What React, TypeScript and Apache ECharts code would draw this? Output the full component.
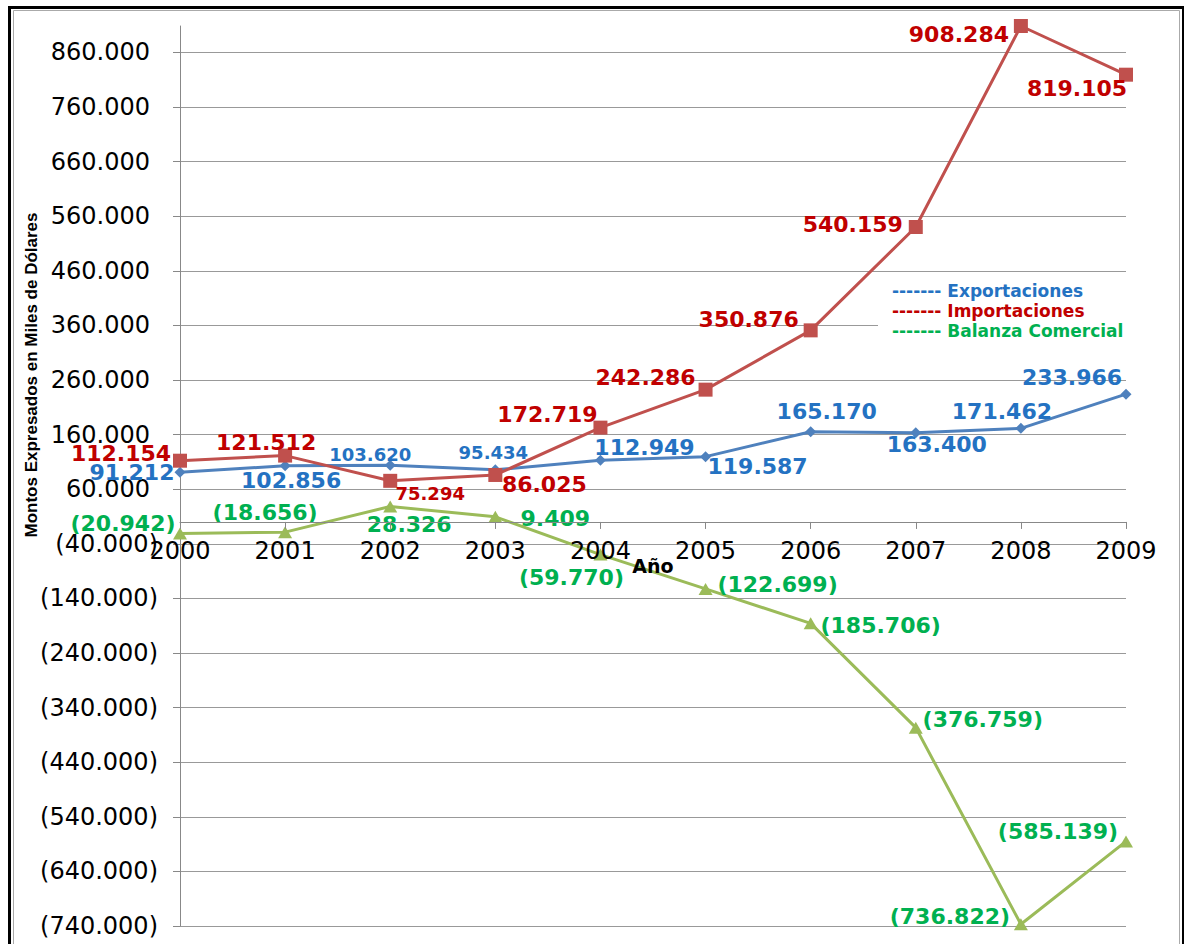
import React, { useEffect, useRef } from "react";
import * as echarts from "echarts";

const years = ["2000", "2001", "2002", "2003", "2004", "2005", "2006", "2007", "2008", "2009"];
const exportaciones = [91.212, 102.856, 103.62, 95.434, 112.949, 119.587, 165.17, 163.4, 171.462, 233.966];
const importaciones = [112.154, 121.512, 75.294, 86.025, 172.719, 242.286, 350.876, 540.159, 908.284, 819.105];
const balanza = [-20.942, -18.656, 28.326, 9.409, -59.77, -122.699, -185.706, -376.759, -736.822, -585.139];
const yMin = -740;
const yInterval = 100;

// label placement (pixel offsets from each point), kept apart from the data
const expOffsets = [[-48, 0], [6, 15], [-20, -11], [-2, -17], [44, -13], [52, 10], [16, -20], [21, 12], [-19, -17], [-54, -17]];
const impOffsets = [[-59, -7], [-19, -13], [40, 13], [49, 10], [-53, -13], [-60, -12], [-62, -11], [-63, -3], [-62, 8], [-49, 14]];
const balOffsets = [[-57, -10], [-20, -20], [19, 18], [60, 2], [-29, 23], [72, -4], [70, 2], [67, -8], [-71, -8], [-68, -10]];
const expSmall = [2, 3];
const impSmall = [2];

const FONT = "'DejaVu Sans', Verdana, sans-serif";
const GRID = { left: 180, right: 58, top: 26, bottom: 18 };
const H = 944;

const fmt = (v: number) => (v < 0 ? `(${Math.abs(v).toFixed(3)})` : v.toFixed(3));

function buildData(values: number[], offsets: number[][], small: number[], color: string) {
  return values.map((v, i) => ({
    value: v,
    label: {
      show: true,
      position: "inside",
      offset: offsets[i],
      color,
      fontFamily: FONT,
      fontWeight: "bold",
      fontSize: small.includes(i) ? 18 : 22,
      formatter: (p: any) => fmt(p.value),
    },
  }));
}

export default function App() {
  const ref = useRef<HTMLDivElement>(null);
  useEffect(() => {
    document.body.style.margin = "0";
    const chart = echarts.init(ref.current!, null, { renderer: "svg" });
    const blueT = "#2472C2";
    const redT = "#C00000";
    const greenT = "#00B050";
    const yMax = Math.max(...importaciones, ...exportaciones);
    const plotH = H - GRID.top - GRID.bottom;
    const zeroOffset = -((0 - yMin) / (yMax - yMin)) * plotH;
    chart.setOption({
      animation: false,
      backgroundColor: "#fff",
      grid: { ...GRID, containLabel: false, outerBoundsMode: "none" },
      legend: {
        orient: "vertical",
        left: 878,
        top: 278,
        backgroundColor: "#fff",
        padding: [4, 8, 4, 9],
        itemGap: 3,
        itemWidth: 0,
        itemHeight: 10,
        icon: "none",
        selectedMode: false,
        formatter: "------- {name}",
        textStyle: { fontFamily: FONT, fontWeight: "bold", fontSize: 17 },
        data: [
          { name: "Exportaciones", textStyle: { color: blueT } },
          { name: "Importaciones", textStyle: { color: redT } },
          { name: "Balanza Comercial", textStyle: { color: greenT } },
        ],
      },
      xAxis: {
        type: "category",
        data: years,
        boundaryGap: false,
        position: "bottom",
        offset: zeroOffset,
        name: "Año",
        nameLocation: "middle",
        nameGap: 35,
        nameMoveOverlap: false,
        nameTextStyle: { fontFamily: FONT, fontWeight: "bold", fontSize: 19, color: "#000" },
        axisLine: { onZero: false, lineStyle: { color: "#888", width: 1 } },
        axisTick: { show: true, length: 7, lineStyle: { color: "#888" } },
        axisLabel: { fontFamily: FONT, fontSize: 24, color: "#000", margin: 17, hideOverlap: false },
        splitLine: { show: false },
        z: 10,
      },
      yAxis: {
        type: "value",
        min: yMin,
        max: "dataMax",
        interval: yInterval,
        axisLine: { show: true, lineStyle: { color: "#888", width: 1 } },
        axisTick: { show: true, length: 7, lineStyle: { color: "#888" } },
        axisLabel: {
          showMaxLabel: false,
          fontFamily: FONT,
          fontSize: 24,
          color: "#000",
          margin: 22,
          formatter: (v: number) => (v < 0 ? `(${Math.abs(v).toFixed(3)})` : `{p|${v.toFixed(3)}}`),
          rich: { p: { fontFamily: FONT, fontSize: 24, color: "#000", padding: [0, 8, 0, 0] } },
        },
        splitLine: { show: true, showMaxLine: false, lineStyle: { color: "#999", width: 1 } },
      },
      graphic: [
        { type: "rect", left: 7, top: 5, shape: { width: 1174, height: 960 }, style: { fill: "none", stroke: "#000", lineWidth: 3 }, silent: true, z: 100 },
        { type: "rect", left: 11, top: 8, shape: { width: 1166, height: 960 }, style: { fill: "none", stroke: "#aaa", lineWidth: 1 }, silent: true, z: 100 },
        {
          type: "text",
          x: 31,
          y: 375,
          rotation: Math.PI / 2,
          style: {
            text: "Montos Expresados en Miles de Dólares",
            font: "bold 17px 'Liberation Sans Narrow', 'Arial Narrow', sans-serif",
            fill: "#000",
            textAlign: "center",
            textVerticalAlign: "middle",
          },
        },
      ],
      series: [
        {
          name: "Exportaciones",
          type: "line",
          data: buildData(exportaciones, expOffsets, expSmall, blueT),
          symbol: "diamond",
          symbolSize: 11,
          lineStyle: { color: "#4F81BD", width: 3 },
          itemStyle: { color: "#4F81BD" },
          z: 3,
        },
        {
          name: "Importaciones",
          type: "line",
          data: buildData(importaciones, impOffsets, impSmall, redT),
          symbol: "rect",
          symbolSize: 14,
          lineStyle: { color: "#C0504D", width: 3 },
          itemStyle: { color: "#C0504D" },
          z: 4,
        },
        {
          name: "Balanza Comercial",
          type: "line",
          data: buildData(balanza, balOffsets, [], greenT),
          symbol: "triangle",
          symbolSize: [14, 12],
          lineStyle: { color: "#9BBB59", width: 3 },
          itemStyle: { color: "#9BBB59" },
          z: 5,
        },
      ],
    });
    return () => chart.dispose();
  }, []);
  return <div ref={ref} style={{ position: "absolute", left: 0, top: 0, width: 1184, height: 944 }} />;
}
